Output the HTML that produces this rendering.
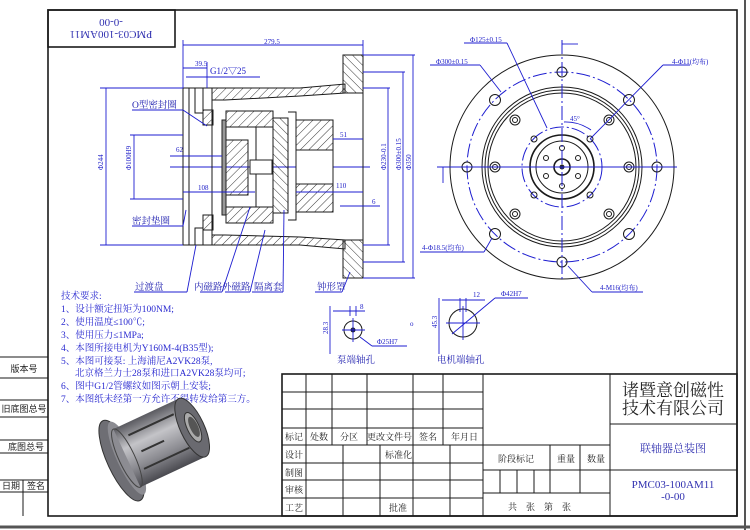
<!DOCTYPE html>
<html><head><meta charset="utf-8"><style>
body{margin:0;background:#fff;}
svg{display:block;}
text{font-family:"Liberation Serif","Noto Serif CJK SC","Noto Sans CJK SC",serif;}
.b{stroke:#1a1a1a;fill:none;stroke-width:1;}
.bt{stroke:#1a1a1a;fill:none;stroke-width:1.6;}
.u{stroke:#1d1dd0;fill:none;stroke-width:0.9;}
.ud{stroke:#1d1dd0;fill:none;stroke-width:1;stroke-dasharray:14 3 2 3;}
.ut{fill:#2020c8;font-size:7px;}
.lt{fill:#2222b0;font-size:9.5px;}
.tt{fill:#222;font-size:9px;font-family:"Liberation Sans","Noto Sans CJK SC",sans-serif;}
.hs{stroke:#1a1a1a;stroke-width:1;fill:url(#h);}
.hs2{stroke:#1a1a1a;stroke-width:1;fill:url(#h2);}
</style></head><body>
<svg width="750" height="530" viewBox="0 0 750 530" xmlns="http://www.w3.org/2000/svg">
<defs>
<pattern id="h" width="6" height="6" patternUnits="userSpaceOnUse" patternTransform="rotate(45)"><line x1="0" y1="0" x2="0" y2="6" stroke="#222" stroke-width="0.9"/></pattern>
<pattern id="h2" width="6" height="6" patternUnits="userSpaceOnUse" patternTransform="rotate(-45)"><line x1="0" y1="0" x2="0" y2="6" stroke="#222" stroke-width="0.9"/></pattern>
<linearGradient id="cyl" x1="0" y1="0" x2="0" y2="1"><stop offset="0" stop-color="#5a5a60"/><stop offset="0.35" stop-color="#c4c4c8"/><stop offset="0.7" stop-color="#8a8a90"/><stop offset="1" stop-color="#4a4a50"/></linearGradient>
</defs>
<rect width="750" height="530" fill="#fff"/>
<line x1="745" y1="0" x2="745" y2="530" stroke="#555" stroke-width="2"/>
<line x1="0" y1="527" x2="750" y2="527" stroke="#555" stroke-width="3"/>
<rect x="48" y="10" width="689" height="506" class="bt"/>
<rect x="48" y="10" width="127" height="37" class="bt"/>
<g transform="rotate(180 111 28.5)">
<text x="111" y="26" font-size="11" fill="#3030b0" text-anchor="middle">PMC03-100AM11</text>
<text x="111" y="38" font-size="11" fill="#3030b0" text-anchor="middle">-0-00</text>
</g>

<g class="b">
<line x1="0" y1="357" x2="48" y2="357"/><line x1="0" y1="378" x2="48" y2="378"/>
<line x1="0" y1="400" x2="48" y2="400"/><line x1="0" y1="417" x2="48" y2="417"/>
<line x1="0" y1="440" x2="48" y2="440"/><line x1="0" y1="453" x2="48" y2="453"/>
<line x1="0" y1="480" x2="48" y2="480"/><line x1="0" y1="492" x2="48" y2="492"/>
<line x1="23" y1="480" x2="23" y2="516"/>
</g>
<text x="24" y="372" class="tt" text-anchor="middle">版本号</text>
<text x="24" y="412" class="tt" text-anchor="middle">旧底图总号</text>
<text x="26" y="450" class="tt" text-anchor="middle">底图总号</text>
<text x="11" y="489" class="tt" text-anchor="middle">日期</text>
<text x="36" y="489" class="tt" text-anchor="middle">签名</text>

<!-- side section view -->
<line x1="170" y1="167" x2="370" y2="167" class="u"/>
<rect x="183" y="88" width="6" height="157" class="b"/>
<rect x="189" y="88" width="23" height="157" class="b"/>
<rect x="195" y="88" width="8" height="25" class="b"/>
<rect x="195" y="228" width="8" height="17" class="b"/>
<rect x="203" y="110" width="10" height="15" class="hs"/>
<rect x="203" y="215" width="10" height="15" class="hs"/>
<path d="M212 88 L300 88 L345 84 L345 93 L300 96 L225 100 L212 100 Z" class="hs"/>
<path d="M212 245 L300 245 L345 249 L345 240 L300 237 L225 235 L212 235 Z" class="hs"/>
<path d="M343 55 L363 55 L363 93 L343 93 Z" class="hs2"/>
<path d="M343 240 L363 240 L363 278 L343 278 Z" class="hs2"/>
<line x1="363" y1="93" x2="363" y2="240" class="b"/>
<rect x="226" y="111" width="47" height="16" class="hs"/>
<rect x="226" y="207" width="47" height="16" class="hs"/>
<rect x="226" y="127" width="30" height="80" class="b"/>
<rect x="226" y="140" width="22" height="55" class="hs"/>
<rect x="222" y="120" width="4" height="95" fill="#999" stroke="#222"/>
<rect x="273" y="118" width="15" height="95" class="hs2"/>
<path d="M288 112 L296 112 L296 220 L288 220" class="b"/>
<path d="M296 120 L333 120 L333 212 L296 212 Z" class="hs"/>
<rect x="296" y="150" width="37" height="34" fill="#fff" stroke="#222"/>
<rect x="250" y="160" width="22" height="14" fill="#fff" stroke="#222"/>

<g class="u">
<line x1="183" y1="45" x2="363" y2="45"/><line x1="183" y1="40" x2="183" y2="88"/><line x1="363" y1="40" x2="363" y2="55"/>
<line x1="183" y1="68" x2="207" y2="68"/><line x1="207" y1="62" x2="207" y2="88"/>
<line x1="186" y1="77" x2="260" y2="77"/>
<line x1="100" y1="88" x2="183" y2="88"/><line x1="100" y1="245" x2="183" y2="245"/><line x1="106" y1="88" x2="106" y2="245"/>
<line x1="130" y1="135" x2="183" y2="135"/><line x1="130" y1="199" x2="183" y2="199"/><line x1="134" y1="135" x2="134" y2="199"/>
<line x1="170" y1="156" x2="222" y2="156"/>
<line x1="183" y1="192" x2="255" y2="192"/>
<line x1="296" y1="192" x2="363" y2="192"/>
<line x1="333" y1="139" x2="363" y2="139"/>
<line x1="340" y1="206" x2="380" y2="206"/>
<line x1="363" y1="88" x2="390" y2="88"/><line x1="363" y1="245" x2="390" y2="245"/><line x1="388" y1="88" x2="388" y2="245"/>
<line x1="363" y1="72" x2="405" y2="72"/><line x1="363" y1="262" x2="405" y2="262"/><line x1="403" y1="72" x2="403" y2="262"/>
<line x1="363" y1="55" x2="415" y2="55"/><line x1="363" y1="278" x2="415" y2="278"/><line x1="413" y1="55" x2="413" y2="278"/>
<line x1="132" y1="110" x2="183" y2="110"/><line x1="183" y1="110" x2="207" y2="126"/>
<line x1="132" y1="226" x2="183" y2="226"/><line x1="183" y1="226" x2="186" y2="210"/>
<line x1="134" y1="292" x2="187" y2="292"/><line x1="187" y1="292" x2="196" y2="245"/>
<line x1="200" y1="292" x2="222" y2="292"/><line x1="222" y1="292" x2="250" y2="207"/>
<line x1="225" y1="292" x2="250" y2="292"/><line x1="250" y1="292" x2="265" y2="230"/>
<line x1="252" y1="292" x2="283" y2="292"/><line x1="283" y1="292" x2="284" y2="210"/>
<line x1="315" y1="292" x2="342" y2="292"/><line x1="342" y1="292" x2="350" y2="272"/>
</g>
<text x="272" y="44" class="ut" text-anchor="middle">279.5</text>
<text x="195" y="66" class="ut">39.5</text>
<text x="210" y="74" font-size="9" fill="#2020c8">G1/2▽25</text>
<text x="176" y="152" class="ut">62</text>
<text x="198" y="190" class="ut">108</text>
<text x="336" y="188" class="ut">110</text>
<text x="340" y="137" class="ut">51</text>
<text x="372" y="204" class="ut">6</text>
<text x="103" y="170" class="ut" transform="rotate(-90 103 170)">Φ244</text>
<text x="131" y="170" class="ut" transform="rotate(-90 131 170)">Φ100H9</text>
<text x="386" y="170" class="ut" transform="rotate(-90 386 170)">Φ230-0.1</text>
<text x="401" y="170" class="ut" transform="rotate(-90 401 170)">Φ300±0.15</text>
<text x="411" y="170" class="ut" transform="rotate(-90 411 170)">Φ350</text>
<text x="132" y="108" class="lt">O型密封圈</text>
<text x="132" y="224" class="lt">密封垫圈</text>
<text x="135" y="290" class="lt" font-size="8.5">过渡盘</text>
<text x="194" y="290" class="lt" font-size="8.5">内磁路</text>
<text x="222" y="290" class="lt" font-size="8.5">外磁路</text>
<text x="254" y="290" class="lt" font-size="8.5">隔离套</text>
<text x="317" y="290" class="lt" font-size="8.5">钟形罩</text>

<!-- end view -->
<g transform="translate(562,167)">
<circle r="112" class="b"/>
<circle r="95" class="ud"/>
<circle r="80" class="b"/><circle r="77" class="b"/><circle r="74" class="b"/>
<circle r="40" class="ud"/>
<circle r="32" class="bt"/><circle r="26" class="b"/><circle r="8" class="bt"/><circle r="2.5" fill="#222"/>
<g class="b">
<circle cx="0" cy="-95" r="5"/><circle cx="0" cy="95" r="5"/><circle cx="-95" cy="0" r="5"/><circle cx="95" cy="0" r="5"/>
<circle cx="-67" cy="-67" r="5.5"/><circle cx="67" cy="-67" r="5.5"/><circle cx="-67" cy="67" r="5.5"/><circle cx="67" cy="67" r="5.5"/>
<circle cx="-47" cy="-47" r="5"/><circle cx="-47" cy="-47" r="2.5"/>
<circle cx="47" cy="-47" r="5"/><circle cx="47" cy="-47" r="2.5"/>
<circle cx="-47" cy="47" r="5"/><circle cx="-47" cy="47" r="2.5"/>
<circle cx="47" cy="47" r="5"/><circle cx="47" cy="47" r="2.5"/>
<circle cx="-67" cy="0" r="5"/><circle cx="-67" cy="0" r="2.5"/>
<circle cx="67" cy="0" r="5"/><circle cx="67" cy="0" r="2.5"/>
<circle cx="-28" cy="-28" r="3"/><circle cx="28" cy="-28" r="3"/><circle cx="-28" cy="28" r="3"/><circle cx="28" cy="28" r="3"/>
<circle cx="0" cy="-19" r="2.5"/><circle cx="0" cy="19" r="2.5"/>
<circle cx="-16" cy="-9" r="2.5"/><circle cx="16" cy="-9" r="2.5"/><circle cx="-16" cy="9" r="2.5"/><circle cx="16" cy="9" r="2.5"/>
</g>
<line x1="-125" y1="0" x2="115" y2="0" class="u"/>
<line x1="0" y1="-127" x2="0" y2="113" class="ud"/>
</g>
<g class="u">
<line x1="562" y1="44" x2="578" y2="44"/>
<line x1="443" y1="167" x2="443" y2="183"/>
<line x1="464" y1="43" x2="507" y2="43"/><line x1="507" y1="43" x2="547" y2="128"/>
<line x1="430" y1="65" x2="480" y2="65"/><line x1="480" y1="65" x2="501" y2="92"/>
<line x1="690" y1="65" x2="663" y2="65"/><line x1="663" y1="65" x2="590" y2="139"/>
<line x1="420" y1="252" x2="484" y2="252"/><line x1="484" y1="252" x2="492" y2="238"/>
<line x1="592" y1="292" x2="643" y2="292"/><line x1="592" y1="292" x2="568" y2="266"/>
<path d="M564 122 A45 45 0 0 1 591 130"/>
</g>
<text x="470" y="42" class="ut">Φ125±0.15</text>
<text x="436" y="64" class="ut">Φ300±0.15</text>
<text x="672" y="64" class="ut">4-Φ11(均布)</text>
<text x="422" y="250" class="ut">4-Φ18.5(均布)</text>
<text x="600" y="290" class="ut">4-M16(均布)</text>
<text x="570" y="121" class="ut">45°</text>

<g class="b">
<circle cx="353" cy="330" r="9"/><circle cx="353" cy="330" r="2" fill="#222"/>
<circle cx="463" cy="323" r="14"/>
</g>
<g class="u">
<line x1="330" y1="306" x2="330" y2="354"/><line x1="333" y1="311" x2="365" y2="311"/><line x1="350" y1="306" x2="350" y2="316"/><line x1="356" y1="306" x2="356" y2="316"/>
<line x1="342" y1="330" x2="365" y2="330"/><line x1="353" y1="318" x2="353" y2="342"/><line x1="360" y1="337" x2="372" y2="346"/><line x1="372" y1="346" x2="407" y2="346"/>
<line x1="439" y1="298" x2="439" y2="354"/><line x1="442" y1="300" x2="485" y2="300"/><line x1="460" y1="298" x2="460" y2="312"/><line x1="466" y1="298" x2="466" y2="312"/>
<line x1="446" y1="323" x2="480" y2="323"/><line x1="463" y1="306" x2="463" y2="340"/><line x1="452" y1="334" x2="495" y2="298"/><line x1="495" y1="298" x2="528" y2="298"/>
</g>
<text x="360" y="309" class="ut">8</text>
<text x="473" y="297" class="ut">12</text>
<text x="501" y="296" class="ut">Φ42H7</text>
<text x="377" y="344" class="ut">Φ25H7</text>
<text x="328" y="334" class="ut" transform="rotate(-90 328 334)">28.3</text>
<text x="437" y="328" class="ut" transform="rotate(-90 437 328)">45.3</text>
<text x="337" y="363" class="lt" font-size="10">泵端轴孔</text>
<text x="437" y="363" class="lt" font-size="10">电机端轴孔</text>
<text x="410" y="326" class="ut">o</text>

<g font-size="9.5" fill="#2a2ad0">
<text x="61" y="299">技术要求:</text>
<text x="61" y="312">1、设计额定扭矩为100NM;</text>
<text x="61" y="325">2、使用温度≤100℃;</text>
<text x="61" y="338">3、使用压力≤1MPa;</text>
<text x="61" y="351">4、本图所接电机为Y160M-4(B35型);</text>
<text x="61" y="364">5、本图可接泵: 上海浦尼A2VK28泵,</text>
<text x="75" y="376">北京格兰力士28泵和进口A2VK28泵均可;</text>
<text x="61" y="389">6、图中G1/2管螺纹如图示朝上安装;</text>
<text x="61" y="402">7、本图纸未经第一方允许不得转发给第三方。</text>
</g>

<!-- 3D model: cylinder axis tilted up-right -->
<g transform="rotate(-25 155 445)">
<ellipse cx="118" cy="445" rx="14" ry="44" fill="#6e6e74" stroke="#333"/>
<ellipse cx="124" cy="445" rx="10" ry="40" fill="#8c8c92"/>
<rect x="124" y="413" width="72" height="64" fill="url(#cyl)"/>
<line x1="135" y1="425" x2="185" y2="425" stroke="#333" stroke-width="2"/>
<line x1="135" y1="462" x2="185" y2="462" stroke="#333" stroke-width="2"/>
<line x1="140" y1="445" x2="165" y2="445" stroke="#333" stroke-width="2"/>
<ellipse cx="124" cy="445" rx="8" ry="32" fill="none" stroke="#444"/>
<ellipse cx="196" cy="445" rx="12" ry="32" fill="#6a6a70" stroke="#333"/>
<ellipse cx="197" cy="445" rx="6" ry="16" fill="#aaa" stroke="#333"/>
<ellipse cx="198" cy="445" rx="4" ry="11" fill="#555"/>
</g>

<!-- title block -->
<g class="b" stroke-width="1.2">
<rect x="282" y="374" width="455" height="142" class="bt"/>
<line x1="282" y1="392" x2="483" y2="392"/><line x1="282" y1="409" x2="483" y2="409"/>
<line x1="282" y1="428" x2="483" y2="428"/><line x1="282" y1="445" x2="483" y2="445"/>
<line x1="282" y1="463" x2="483" y2="463"/><line x1="282" y1="480" x2="483" y2="480"/><line x1="282" y1="498" x2="483" y2="498"/>
<line x1="306" y1="374" x2="306" y2="516"/><line x1="332" y1="374" x2="332" y2="445"/><line x1="367" y1="374" x2="367" y2="445"/>
<line x1="413" y1="374" x2="413" y2="516"/><line x1="443" y1="374" x2="443" y2="445"/>
<line x1="343" y1="445" x2="343" y2="516"/><line x1="380" y1="445" x2="380" y2="516"/><line x1="450" y1="445" x2="450" y2="516"/>
<line x1="483" y1="374" x2="483" y2="516"/><line x1="610" y1="374" x2="610" y2="516"/>
<line x1="483" y1="445" x2="610" y2="445"/><line x1="483" y1="470" x2="610" y2="470"/><line x1="483" y1="493" x2="610" y2="493"/>
<line x1="550" y1="445" x2="550" y2="493"/><line x1="580" y1="445" x2="580" y2="493"/>
<line x1="500" y1="470" x2="500" y2="493"/><line x1="517" y1="470" x2="517" y2="493"/><line x1="534" y1="470" x2="534" y2="493"/>
<line x1="610" y1="424" x2="737" y2="424"/><line x1="610" y1="470" x2="737" y2="470"/>
</g>
<g class="tt">
<text x="285" y="440">标记</text><text x="310" y="440">处数</text><text x="340" y="440">分区</text><text x="367" y="440">更改文件号</text><text x="419" y="440">签名</text><text x="451" y="440">年月日</text>
<text x="285" y="458">设计</text><text x="385" y="458">标准化</text>
<text x="285" y="476">制图</text><text x="285" y="493">审核</text><text x="285" y="511">工艺</text><text x="389" y="511">批准</text>
<text x="498" y="462">阶段标记</text><text x="557" y="462">重量</text><text x="587" y="462">数量</text>
<text x="508" y="510">共　张　第　张</text>
</g>
<text x="673" y="396" font-size="17" fill="#222" text-anchor="middle" font-family="Liberation Sans,Noto Sans CJK SC,sans-serif">诸暨意创磁性</text>
<text x="673" y="414" font-size="17" fill="#222" text-anchor="middle" font-family="Liberation Sans,Noto Sans CJK SC,sans-serif">技术有限公司</text>
<text x="673" y="452" font-size="11" fill="#3030b0" text-anchor="middle">联轴器总装图</text>
<text x="673" y="488" font-size="11" fill="#3030b0" text-anchor="middle">PMC03-100AM11</text>
<text x="673" y="500" font-size="11" fill="#3030b0" text-anchor="middle">-0-00</text>
</svg>
</body></html>
